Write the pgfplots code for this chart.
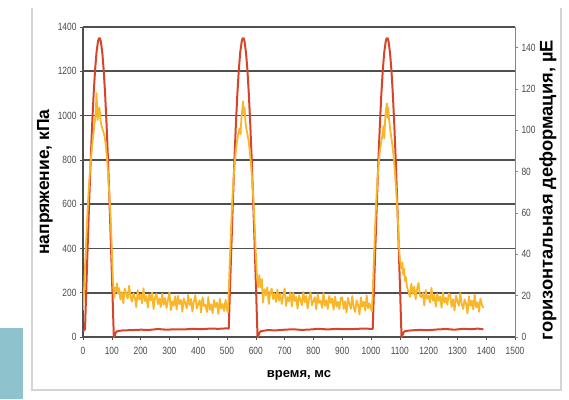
\documentclass[border=0pt]{standalone}
\usepackage{pgfplots}
\pgfplotsset{compat=1.18}
\usepackage{fontspec}
\setmainfont{Liberation Sans}
\newfontfamily\tickfont{Liberation Sans}[FakeStretch=0.8]
\definecolor{redc}{HTML}{D8442A}
\definecolor{orc}{HTML}{F9B62A}
\definecolor{gridc}{HTML}{505050}
\definecolor{tealc}{HTML}{8EC3CE}
\definecolor{framec}{HTML}{D4D4D4}
\definecolor{tickc}{HTML}{4A4A4A}
\begin{document}
\begin{tikzpicture}[x=1pt,y=1pt]
\path[use as bounding box] (0,0) rectangle (569,399);
\fill[tealc] (0,0) rectangle (23,71);
\draw[framec, line width=1.2pt] (32,391) -- (32,9) -- (561,9) -- (561,391);
\begin{axis}[
  at={(83pt,62pt)}, anchor=south west,
  scale only axis, width=432pt, height=310pt,
  xmin=0, xmax=1500, ymin=0, ymax=1400,
  xtick={0,100,...,1500}, ytick={0,200,...,1400},
  axis x line*=bottom, axis y line*=left,
  axis line style={gridc, line width=1.4pt, -},
  ymajorgrids, grid style={gridc, line width=1.8pt},
  tick align=outside, major tick length=3pt,
  tick style={gridc, line width=0.6pt},
  /pgf/number format/assume math mode=true,
  /pgf/number format/1000 sep={},
  ticklabel style={font=\tickfont\fontsize{10.5}{11}\selectfont, text=tickc},
  xticklabel style={yshift=-4pt},
  xlabel={\bfseries время, мс},
  xlabel style={at={(axis description cs:0.5,-0.123)}, anchor=center, font=\fontsize{13}{14}\selectfont},
  ylabel={\bfseries напряжение, кПа},
  ylabel style={at={(axis description cs:-0.088,0.5)}, anchor=center, font=\fontsize{17.5}{18}\selectfont},
]
\addplot[redc, line width=2pt, line join=round] coordinates {
(0,25)(3,30)(7,35)(12,241)(17,441)(22,632)(27,808)(32,965)(37,1099)(42,1207)(47,1286)(52,1334)(55,1348)(57,1350)(59,1348)(62,1334)(67,1284)(72,1203)(77,1092)(82,955)(87,794)(92,613)(97,417)(102,211)(107,0)(110,5)(113,18)(117,25)(127,28)(140,30)(170,31)(200,33)(230,32)(260,36)(290,33)(320,35)(350,34)(380,37)(410,35)(440,38)(470,37)(500,39)(506,38)
(511,244)(516,441)(521,632)(526,808)(531,965)(536,1099)(541,1207)(546,1286)(551,1334)(554,1348)(556,1350)(558,1348)(561,1334)(566,1284)(571,1203)(576,1092)(581,955)(586,794)(591,613)(596,417)(601,211)(606,0)(609,5)(612,18)(616,25)(626,28)(640,31)(670,30)(700,33)(730,35)(760,32)(790,34)(820,37)(850,34)(880,37)(910,35)(940,36)(970,38)(1000,37)(1006,37)
(1011,244)(1016,441)(1021,632)(1026,808)(1031,965)(1036,1099)(1041,1207)(1046,1286)(1051,1334)(1054,1348)(1056,1350)(1058,1348)(1061,1334)(1066,1284)(1071,1203)(1076,1092)(1081,955)(1086,794)(1091,613)(1096,417)(1101,211)(1106,0)(1109,5)(1112,18)(1116,25)(1126,28)(1140,30)(1170,32)(1200,31)(1230,34)(1260,36)(1290,33)(1320,37)(1350,35)(1370,38)(1385,36)(1390,34)
};
\end{axis}
\begin{axis}[
  at={(83pt,62pt)}, anchor=south west,
  scale only axis, width=432pt, height=310pt,
  xmin=0, xmax=1500, ymin=0, ymax=150,
  ytick={0,20,...,140},
  axis x line=none, axis y line*=right,
  axis line style={gridc!70, line width=0.8pt, -},
  tick align=outside, major tick length=3pt,
  tick style={gridc!70, line width=0.6pt},
  /pgf/number format/assume math mode=true,
  ticklabel style={font=\tickfont\fontsize{10.5}{11}\selectfont, text=tickc},
  ylabel={\bfseries горизонтальная деформация, µE},
  ylabel style={at={(axis description cs:1.076,0.474)}, anchor=center, font=\fontsize{18.3}{19}\selectfont},
]
\addplot[orc, line width=1.8pt, line join=round] coordinates {
(0,13)(2,17)(4,24)(7,34)(10,43)(14,55)(17,64)(21,74)(25,82)(30,90)(35,97)(40,103)(44,108)(47,118)(49,112)(51,105)(53,109)(55,107)(57,111)(60,106)(63,103)(67,101)(71,99)(75,97)(79,93)(83,87)(87,79)(91,70)(94,63)(97,54)(100,43)(103,31)(106,22)(109,19)(112,24)(115,22)(118,26)(121,21)
(125,23.7)(130,18.1)(135,21.8)(140,16.3)(145,23.5)(150,21.0)(155,18.6)(160,24.8)(165,19.2)(170,17.1)
(175,21.2)(180,19.2)(185,14.4)(190,22.7)(195,18.2)(200,20.6)(205,16.3)(210,23.6)(215,17.4)(220,19.8)
(225,14.2)(230,20.6)(235,17.7)(240,21.5)(245,13.5)(250,19.1)(255,20.9)(260,15.9)(265,18.6)(270,14.5)
(275,21.0)(280,15.6)(285,18.9)(290,14.0)(295,18.0)(300,21.5)(305,13.0)(310,17.3)(315,15.2)(320,19.7)
(325,13.3)(330,19.9)(335,15.9)(340,17.9)(345,12.2)(350,18.6)(355,16.5)(360,13.9)(365,20.3)(370,15.4)
(375,18.4)(380,12.3)(385,17.3)(390,20.2)(395,13.8)(400,15.8)(405,17.8)(410,11.8)(415,19.2)(420,15.0)
(425,15.5)(430,12.1)(435,19.3)(440,13.1)(445,15.8)(450,11.6)(455,17.9)(460,14.5)(465,16.6)(470,11.2)
(475,18.5)(480,13.7)(485,16.0)(490,12.6)(495,18.0)(500,13)(503,12)
(505,18)(507,26)(510,38)(514,52)(517,62)(521,73)(525,81)(530,89)(535,95)(540,99)(544,101)(547,98)(550,106)(553,110)(556,114)(558,108)(561,111)(564,104)(567,101)(571,98)(575,95)(579,90)(583,84)(587,77)(591,68)(594,60)(597,51)(600,41)(603,32)(606,26)(609,24)(612,30)(615,27)(618,24)(621,28)
(625,16.7)(630,23.1)(635,20.2)(640,24.0)(645,16.0)(650,21.6)(655,23.4)(660,18.4)(665,21.1)(670,17.0)
(675,23.0)(680,17.6)(685,20.9)(690,16.0)(695,20.0)(700,23.5)(705,15.0)(710,19.3)(715,17.2)(720,21.7)
(725,14.8)(730,21.4)(735,17.4)(740,19.4)(745,13.7)(750,20.1)(755,18.0)(760,15.4)(765,21.8)(770,16.9)
(775,19.9)(780,13.8)(785,18.8)(790,21.7)(795,15.3)(800,17.3)(805,19.3)(810,13.3)(815,20.7)(820,16.5)
(825,17.5)(830,14.1)(835,21.3)(840,15.1)(845,17.8)(850,13.6)(855,19.9)(860,16.5)(865,18.6)(870,13.2)
(875,19.5)(880,14.7)(885,17.0)(890,13.6)(895,19.0)(900,19.2)(905,13.6)(910,17.3)(915,11.8)(920,19.0)
(925,16.0)(930,13.6)(935,19.8)(940,14.2)(945,12.1)(950,17.7)(955,15.7)(960,10.9)(965,19.2)(970,14.7)
(975,17.1)(980,12.8)(985,20.1)(990,13.9)(995,16.3)(1000,13.5)(1003,12.5)
(1005,18)(1007,26)(1010,38)(1014,52)(1017,62)(1021,73)(1025,81)(1030,89)(1035,94)(1040,98)(1043,102)(1046,96)(1049,105)(1052,110)(1055,113)(1057,106)(1060,111)(1063,105)(1066,101)(1070,97)(1074,93)(1078,88)(1082,82)(1086,74)(1090,65)(1094,55)(1097,45)(1100,38)(1103,35)(1106,33)(1109,36)(1112,30)(1115,33)(1118,27)(1121,29)
(1125,24.1)(1130,22.0)(1135,19.4)(1140,25.8)(1145,20.9)(1150,24.4)(1155,18.3)(1160,23.3)(1165,26.2)(1170,19.8)
(1175,19.3)(1180,21.3)(1185,15.3)(1190,22.7)(1195,18.5)(1200,20.0)(1205,16.6)(1210,23.8)(1215,17.6)(1220,20.3)
(1225,14.6)(1230,20.9)(1235,17.5)(1240,19.6)(1245,14.2)(1250,21.5)(1255,16.7)(1260,19.0)(1265,15.6)(1270,21.0)
(1275,20.2)(1280,14.6)(1285,18.3)(1290,12.8)(1295,20.0)(1300,17.5)(1305,15.1)(1310,21.3)(1315,15.7)(1320,13.6)
(1325,18.2)(1330,16.2)(1335,11.4)(1340,19.7)(1345,15.2)(1350,17.6)(1355,13.3)(1360,20.6)(1365,14.4)(1370,16.8)
(1375,12.2)(1380,18.6)(1385,15.7)(1390,14.0)
};
\end{axis}
\end{tikzpicture}
\end{document}
